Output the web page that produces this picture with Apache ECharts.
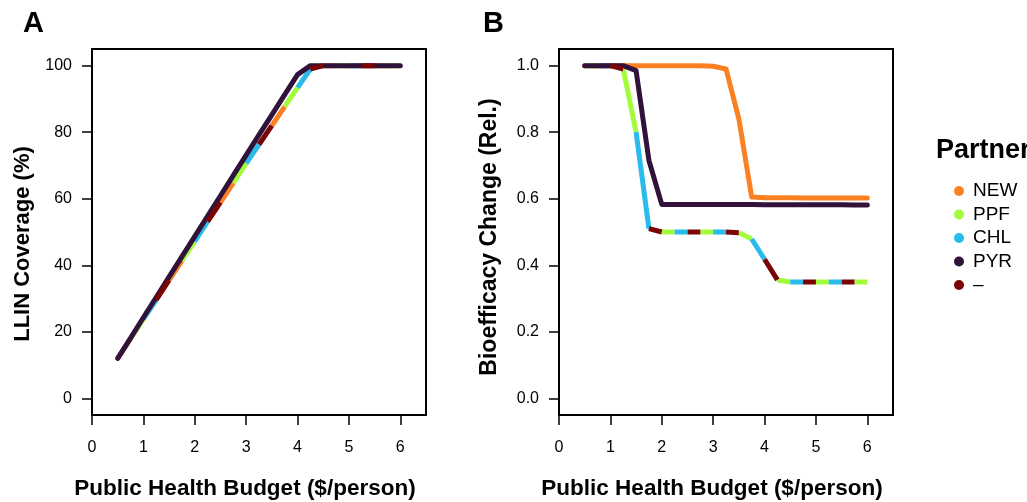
<!DOCTYPE html>
<html><head><meta charset="utf-8">
<script src="https://cdn.jsdelivr.net/npm/echarts@6/dist/echarts.min.js"></script>
<style>html,body{margin:0;padding:0;background:#fff}#c{width:1027px;height:502px}</style>
</head><body><div id="c"></div>
<script>
// ---------- data ----------
const budget = [0.5,0.75,1,1.25,1.5,1.75,2,2.25,2.5,2.75,3,3.25,3.5,3.75,4,4.25,4.5,4.75,5,5.25,5.5,5.75,6];
const partners = ['NEW','PPF','CHL','PYR','–'];
const partnerColors = ['#FB8022','#A2FC3C','#28BBEC','#30123B','#7A0403'];
const xTicks = [0,1,2,3,4,5,6];
const coverageTicks = [0,20,40,60,80,100];
const bioTicks = [0,0.2,0.4,0.6,0.8,1.0];
// Panel A: LLIN coverage (%) — NEW, PPF, CHL and "–" coincide
const coverageShared = [12.0,17.9,23.8,29.6,35.5,41.4,47.2,53.1,58.9,64.8,70.6,76.3,82.0,87.7,93.4,99.0,100,100,100,100,100,100,100];
const coveragePYR    = [12.0,18.1,24.3,30.4,36.5,42.6,48.7,54.8,60.9,67.0,73.1,79.2,85.2,91.3,97.3,100,100,100,100,100,100,100,100];
// Panel B: bioefficacy change (relative) — PPF, CHL and "–" coincide
const bioNEW    = [1,1,1,1,1,1,1,1,1,1,0.998,0.99,0.84,0.605,0.603,0.603,0.603,0.602,0.602,0.602,0.602,0.602,0.602];
const bioPYR    = [1,1,1,1,0.985,0.715,0.583,0.583,0.583,0.583,0.583,0.583,0.583,0.583,0.582,0.582,0.582,0.582,0.582,0.582,0.582,0.581,0.581];
const bioShared = [1,1,1,0.99,0.80,0.51,0.50,0.50,0.50,0.50,0.50,0.50,0.498,0.479,0.418,0.356,0.35,0.35,0.35,0.35,0.35,0.35,0.35];

// ---------- helpers ----------
const FONT = '"Liberation Sans", Arial, Helvetica, sans-serif';
const colorOf = n => partnerColors[partners.indexOf(n)];
function pairs(ys){ return budget.map((x,i)=>[x,ys[i]]); }
// coinciding lines are drawn in turns, one segment each
function segData(ys,k,n){
  const out=[];
  for(let i=0;i<budget.length-1;i++){
    if(i%n!==k) continue;
    out.push([budget[i],ys[i]],[budget[i+1],ys[i+1]],['-','-']);
  }
  return out;
}
function solid(name,ys,idx){
  return {type:'line',name,xAxisIndex:idx,yAxisIndex:idx,data:pairs(ys),showSymbol:false,
    itemStyle:{color:colorOf(name)},
    lineStyle:{color:colorOf(name),width:5,cap:'round',join:'round'},silent:true};
}
function seg(name,ys,k,n,idx){
  return {type:'line',name,xAxisIndex:idx,yAxisIndex:idx,data:segData(ys,k,n),showSymbol:false,connectNulls:false,
    itemStyle:{color:colorOf(name)},
    lineStyle:{color:colorOf(name),width:5,cap:'butt',join:'round'},silent:true};
}
function xAxis(idx){
  return {type:'value',gridIndex:idx,min:0,max:6.5,position:'bottom',
    axisLine:{show:false,onZero:false},splitLine:{show:false},
    axisTick:{show:true,inside:false,customValues:xTicks,length:10,lineStyle:{color:'#000',width:1.5}},
    axisLabel:{customValues:xTicks,margin:25,fontSize:16,color:'#000',fontFamily:FONT}};
}
function yAxis(idx,min,max,ticks,fmt){
  return {type:'value',gridIndex:idx,min,max,position:'left',
    axisLine:{show:false,onZero:false},splitLine:{show:false},
    axisTick:{show:true,inside:false,customValues:ticks,length:10,lineStyle:{color:'#000',width:1.5}},
    axisLabel:{customValues:ticks,margin:20,fontSize:16,color:'#000',fontFamily:FONT,formatter:fmt}};
}

const chart = echarts.init(document.getElementById('c'),null,{renderer:'canvas'});
chart.setOption({
  animation:false,
  backgroundColor:'#fff',
  grid:[
    {left:92,top:49,width:334,height:366,show:true,borderColor:'#000',borderWidth:2,backgroundColor:'transparent'},
    {left:559,top:49,width:334,height:366,show:true,borderColor:'#000',borderWidth:2,backgroundColor:'transparent'}
  ],
  xAxis:[xAxis(0),xAxis(1)],
  yAxis:[
    yAxis(0,-5,105,coverageTicks,v=>String(Math.round(v))),
    yAxis(1,-0.05,1.05,bioTicks,v=>v.toFixed(1))
  ],
  legend:{
    data:partners,orient:'vertical',left:949,top:176.5,icon:'circle',
    itemWidth:10,itemHeight:10,itemGap:4.5,selectedMode:false,
    textStyle:{fontSize:19,color:'#000',fontFamily:FONT,padding:[0,0,0,4]}
  },
  graphic:[
    {type:'text',x:23,y:24,style:{text:'A',font:'bold 29px '+FONT,fill:'#000',align:'left',verticalAlign:'middle'}},
    {type:'text',x:483,y:24,style:{text:'B',font:'bold 29px '+FONT,fill:'#000',align:'left',verticalAlign:'middle'}},
    {type:'text',x:245,y:489,style:{text:'Public Health Budget ($/person)',font:'bold 22.5px '+FONT,fill:'#000',align:'center',verticalAlign:'middle'}},
    {type:'text',x:712,y:489,style:{text:'Public Health Budget ($/person)',font:'bold 22.5px '+FONT,fill:'#000',align:'center',verticalAlign:'middle'}},
    {type:'text',x:23,y:244,rotation:Math.PI/2,style:{text:'LLIN Coverage (%)',font:'bold 22px '+FONT,fill:'#000',align:'center',verticalAlign:'middle'}},
    {type:'text',x:490,y:237,rotation:Math.PI/2,style:{text:'Bioefficacy Change (Rel.)',font:'bold 23px '+FONT,fill:'#000',align:'center',verticalAlign:'middle'}},
    {type:'text',x:936,y:151,style:{text:'Partner',font:'bold 27px '+FONT,fill:'#000',align:'left',verticalAlign:'middle'}}
  ],
  series:[
    seg('NEW',coverageShared,0,4,0),
    seg('PPF',coverageShared,1,4,0),
    seg('CHL',coverageShared,2,4,0),
    solid('PYR',coveragePYR,0),
    seg('–',coverageShared,3,4,0),
    solid('NEW',bioNEW,1),
    seg('PPF',bioShared,0,3,1),
    seg('CHL',bioShared,1,3,1),
    solid('PYR',bioPYR,1),
    seg('–',bioShared,2,3,1)
  ]
});
</script>
</body></html>
